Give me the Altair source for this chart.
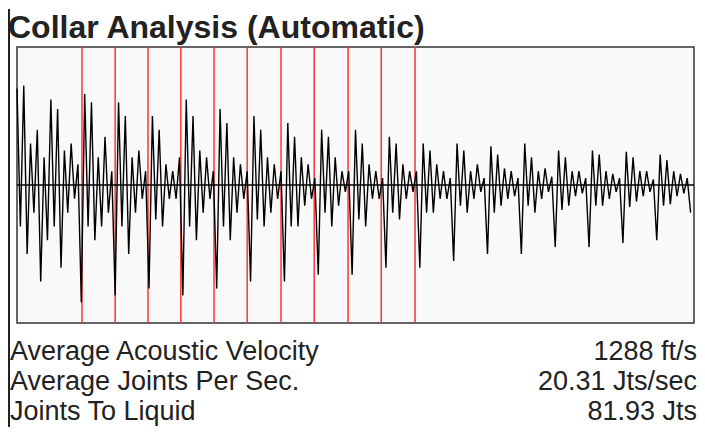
import pandas as pd
import altair as alt

# echo trace, sampled every 0.5 units across 0..100
signal = [
    0.7, -0.3, 0.72, -0.5, 0.3, -0.2, 0.4, -0.7, 0.2, -0.4,
    0.62, -0.3, 0.55, -0.6, 0.25, -0.2, 0.3, -0.1, 0.15, -0.85,
    0.66, -0.3, 0.6, -0.4, 0.2, -0.3, 0.35, -0.2, 0.1, -0.8,
    0.6, -0.3, 0.5, -0.5, 0.2, -0.2, 0.25, -0.1, 0.1, -0.75,
    0.5, -0.25, 0.4, -0.3, 0.15, -0.1, 0.1, -0.1, 0.2, -0.8,
    0.62, -0.3, 0.5, -0.4, 0.25, -0.2, 0.2, -0.1, 0.1, -0.75,
    0.55, -0.3, 0.45, -0.4, 0.2, -0.2, 0.15, -0.1, 0.1, -0.7,
    0.5, -0.25, 0.4, -0.3, 0.2, -0.2, 0.15, -0.1, 0.1, -0.7,
    0.45, -0.3, 0.35, -0.3, 0.2, -0.15, 0.15, -0.1, 0.05, -0.65,
    0.4, -0.2, 0.35, -0.3, 0.2, -0.15, 0.1, -0.05, 0.1, -0.65,
    0.4, -0.25, 0.3, -0.3, 0.15, -0.1, 0.1, -0.1, 0.05, -0.6,
    0.35, -0.2, 0.3, -0.25, 0.15, -0.1, 0.1, -0.05, 0.1, -0.6,
    0.3, -0.2, 0.25, -0.2, 0.15, -0.1, 0.1, -0.1, 0.05, -0.55,
    0.3, -0.15, 0.25, -0.2, 0.1, -0.1, 0.15, -0.05, 0.05, -0.5,
    0.28, -0.2, 0.22, -0.15, 0.12, -0.1, 0.1, -0.08, 0.05, -0.5,
    0.3, -0.15, 0.2, -0.2, 0.1, -0.1, 0.12, -0.05, 0.06, -0.45,
    0.25, -0.18, 0.2, -0.15, 0.1, -0.08, 0.1, -0.06, 0.05, -0.45,
    0.25, -0.15, 0.22, -0.15, 0.1, -0.1, 0.08, -0.05, 0.05, -0.42,
    0.24, -0.16, 0.2, -0.12, 0.1, -0.08, 0.1, -0.05, 0.04, -0.4,
    0.22, -0.15, 0.18, -0.14, 0.1, -0.08, 0.08, -0.06, 0.05, -0.2,
]
collars = [9.6, 14.5, 19.35, 24.2, 29.1, 34.0, 39.0, 43.9, 48.9, 53.8, 58.8]
labels = ["Average Acoustic Velocity", "Average Joints Per Sec.", "Joints To Liquid"]
values = ["1288 ft/s", "20.31 Jts/sec", "81.93 Jts"]

W, H = 677, 276
FONT = "Liberation Sans"
ROW_Y = [305, 335, 365]

trace = pd.DataFrame({"t": [i * 0.5 for i in range(len(signal))], "amp": signal})
xs = alt.Scale(domain=[0, 100], nice=False, zero=False)
ys = alt.Scale(domain=[-1, 1], nice=False)

wave = alt.Chart(trace).mark_line(color="black", strokeWidth=1.4).encode(
    x=alt.X("t:Q", scale=xs, axis=None),
    y=alt.Y("amp:Q", scale=ys, axis=None),
)
midline = alt.Chart(pd.DataFrame({"y": [0]})).mark_rule(color="black", strokeWidth=1.5).encode(
    y=alt.Y("y:Q", scale=ys, axis=None)
)
red = alt.Chart(pd.DataFrame({"c": collars})).mark_rule(color="#ff3333", strokeWidth=1.5).encode(
    x=alt.X("c:Q", scale=xs, axis=None)
)

layers = [red, wave, midline]
dummy = pd.DataFrame({"a": [0]})
for lab, val, ry in zip(labels, values, ROW_Y):
    layers.append(alt.Chart(dummy).mark_text(
        align="left", baseline="middle", font=FONT, fontSize=27, color="#222", text=lab
    ).encode(x=alt.value(-7), y=alt.value(ry)))
    layers.append(alt.Chart(dummy).mark_text(
        align="right", baseline="middle", font=FONT, fontSize=27, color="#222", text=val
    ).encode(x=alt.value(680), y=alt.value(ry)))

layers.append(alt.Chart(dummy).mark_text(
    align="left", baseline="middle", font=FONT, fontSize=32, fontWeight="bold", color="#222",
    text="Collar Analysis (Automatic)"
).encode(x=alt.value(-9), y=alt.value(-19)))
layers.append(alt.Chart(dummy).mark_rule(color="#222", strokeWidth=2).encode(
    x=alt.value(-8), y=alt.value(-38), y2=alt.value(380)
))

chart = alt.layer(*layers).properties(
    width=W, height=H, padding=0,
).configure_view(fill="#f9f9f9", stroke="#333", strokeWidth=1.5)

chart.save("out.html", embed_options={"renderer": "svg", "actions": False})
